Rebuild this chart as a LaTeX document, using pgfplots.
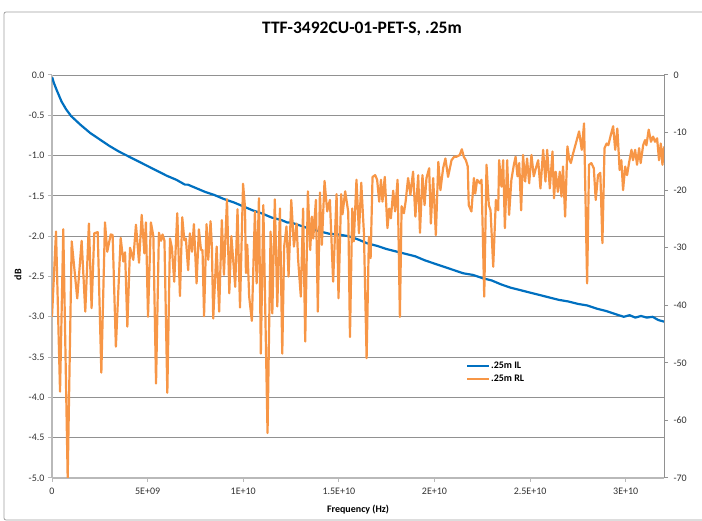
\documentclass[border=0pt]{standalone}
\usepackage{fontspec}
\setmainfont{Carlito}
\usepackage{pgfplots}
\pgfplotsset{compat=1.18}
\definecolor{ilblue}{RGB}{0,112,192}
\definecolor{rlorange}{RGB}{247,150,70}
\definecolor{gridgray}{RGB}{145,145,145}
\definecolor{axgray}{RGB}{185,185,185}
\definecolor{txt}{RGB}{50,50,50}

\pgfplotstableread{
f il
0.01 -0.03
0.10 -0.10
0.25 -0.19
0.50 -0.33
0.75 -0.43
1.00 -0.51
1.50 -0.62
2.00 -0.72
2.50 -0.80
3.00 -0.88
3.50 -0.95
4.00 -1.01
4.50 -1.07
5.00 -1.13
5.50 -1.19
6.00 -1.25
6.50 -1.30
6.80 -1.34
6.95 -1.36
7.10 -1.36
7.50 -1.40
8.00 -1.45
8.50 -1.49
9.00 -1.54
9.50 -1.58
10.00 -1.63
10.50 -1.68
11.00 -1.72
11.50 -1.77
12.00 -1.80
12.30 -1.83
12.50 -1.83
13.00 -1.87
13.50 -1.91
14.00 -1.94
14.50 -1.97
15.00 -1.98
15.50 -2.00
16.00 -2.04
16.50 -2.09
17.00 -2.12
17.50 -2.16
18.00 -2.19
18.50 -2.22
19.00 -2.25
19.50 -2.30
20.00 -2.34
20.50 -2.38
21.00 -2.42
21.50 -2.46
22.00 -2.48
22.50 -2.52
23.00 -2.55
23.50 -2.60
24.00 -2.64
24.50 -2.67
25.00 -2.70
25.50 -2.73
26.00 -2.76
26.50 -2.79
27.00 -2.81
27.50 -2.84
28.00 -2.86
28.50 -2.90
29.00 -2.93
29.50 -2.97
29.90 -3.00
30.20 -2.98
30.50 -3.01
30.80 -2.99
31.10 -3.01
31.40 -3.00
31.70 -3.04
32.00 -3.06
}\iltable

\pgfplotstableread{
f rl
0.00 -42.0
0.21 -27.2
0.42 -55.0
0.59 -26.8
0.82 -70.0
1.03 -28.9
1.32 -38.8
1.55 -28.8
1.74 -41.1
1.93 -25.8
2.07 -40.5
2.21 -27.5
2.39 -27.3
2.58 -51.7
2.77 -25.6
2.89 -30.7
3.07 -27.7
3.17 -27.8
3.34 -47.2
3.59 -28.3
3.73 -32.4
3.82 -30.8
3.94 -43.7
4.08 -30.0
4.25 -32.1
4.39 -26.0
4.55 -32.6
4.69 -24.3
4.83 -31.0
4.91 -25.6
5.02 -42.0
5.17 -25.6
5.30 -28.0
5.44 -53.6
5.59 -27.4
5.70 -28.8
5.78 -27.7
5.88 -28.8
6.03 -55.2
6.17 -28.4
6.27 -30.0
6.39 -35.9
6.55 -24.0
6.69 -38.4
6.81 -24.7
6.92 -28.7
7.00 -28.4
7.12 -33.9
7.21 -27.5
7.32 -30.7
7.42 -25.9
7.56 -36.2
7.68 -26.8
7.79 -30.4
7.87 -30.4
7.95 -41.9
8.08 -25.9
8.17 -32.1
8.29 -25.4
8.36 -29.8
8.43 -42.3
8.61 -29.8
8.74 -41.1
8.88 -25.2
8.99 -34.7
9.15 -21.6
9.27 -37.9
9.38 -28.0
9.58 -36.8
9.70 -23.3
9.83 -40.4
9.99 -18.9
10.09 -22.9
10.14 -34.4
10.21 -29.5
10.31 -38.5
10.45 -42.7
10.61 -23.7
10.70 -36.2
10.82 -21.4
10.92 -48.4
11.05 -22.6
11.27 -62.2
11.43 -27.2
11.52 -41.4
11.65 -21.6
11.78 -40.2
11.92 -23.2
12.04 -48.4
12.14 -29.8
12.26 -26.3
12.37 -35.0
12.51 -21.7
12.65 -29.8
12.79 -25.8
12.87 -32.1
13.01 -38.5
13.13 -23.2
13.24 -46.3
13.38 -20.2
13.50 -30.4
13.59 -24.6
13.66 -28.4
13.80 -21.7
13.90 -41.1
14.01 -20.4
14.11 -29.5
14.25 -18.4
14.39 -23.7
14.53 -21.7
14.70 -35.9
14.88 -20.7
14.98 -38.8
15.12 -20.7
15.19 -24.2
15.33 -20.2
15.49 -23.8
15.58 -45.5
15.70 -23.2
15.78 -28.9
15.92 -18.2
16.05 -27.5
16.17 -18.7
16.31 -27.5
16.45 -49.2
16.57 -28.1
16.66 -31.8
16.76 -17.7
16.90 -17.4
17.00 -18.2
17.11 -22.0
17.20 -18.2
17.28 -22.0
17.40 -17.7
17.54 -26.6
17.63 -23.2
17.72 -24.9
17.84 -20.1
17.94 -23.7
18.07 -18.2
18.19 -42.0
18.28 -22.8
18.40 -24.0
18.49 -22.0
18.62 -17.9
18.74 -20.8
18.88 -16.8
19.00 -24.6
19.15 -17.4
19.24 -27.4
19.37 -17.4
19.48 -22.6
19.58 -17.9
19.72 -16.2
19.81 -25.8
19.93 -17.9
20.07 -27.8
20.20 -15.1
20.31 -20.0
20.45 -16.2
20.57 -14.5
20.71 -17.7
20.89 -14.8
21.03 -14.2
21.15 -14.2
21.32 -13.9
21.43 -12.9
21.53 -14.2
21.64 -14.8
21.74 -15.9
21.79 -22.6
21.93 -23.7
22.06 -17.9
22.13 -20.6
22.23 -18.2
22.37 -18.8
22.46 -18.2
22.60 -38.5
22.72 -15.6
22.84 -22.6
22.93 -23.5
23.07 -33.3
23.21 -21.7
23.33 -23.5
23.38 -14.8
23.50 -19.4
23.59 -14.8
23.68 -26.6
23.80 -14.8
23.90 -24.3
24.02 -18.2
24.15 -15.6
24.24 -14.2
24.34 -17.6
24.43 -15.3
24.53 -23.5
24.63 -13.9
24.74 -18.5
24.84 -14.5
24.95 -18.8
25.07 -13.9
25.19 -17.6
25.30 -16.2
25.42 -14.8
25.54 -19.7
25.68 -13.0
25.80 -18.5
25.89 -13.0
26.03 -19.7
26.17 -13.3
26.25 -21.4
26.34 -16.8
26.45 -20.3
26.55 -16.8
26.64 -21.1
26.72 -15.9
26.83 -24.6
26.95 -12.4
27.04 -14.5
27.13 -15.3
27.25 -13.6
27.39 -11.9
27.56 -9.8
27.70 -13.0
27.82 -8.4
27.98 -36.2
28.08 -15.6
28.20 -15.3
28.33 -16.2
28.43 -21.7
28.55 -17.4
28.67 -17.0
28.78 -29.2
28.89 -12.7
29.00 -11.9
29.09 -12.2
29.22 -10.4
29.34 -8.9
29.45 -13.0
29.56 -9.3
29.68 -16.5
29.77 -14.8
29.86 -20.0
29.97 -15.9
30.07 -17.4
30.17 -15.3
30.30 -13.0
30.38 -14.8
30.49 -13.0
30.59 -15.6
30.70 -12.7
30.78 -15.3
30.91 -12.2
31.01 -11.3
31.08 -12.2
31.20 -9.5
31.32 -11.6
31.43 -10.7
31.53 -11.6
31.64 -11.0
31.74 -14.8
31.83 -11.9
31.92 -15.6
32.00 -12.4
}\rltable

\begin{document}
\begin{tikzpicture}
\useasboundingbox (-52pt,-43pt) rectangle (650pt,478pt);
\draw[gray!75, line width=0.8pt, rounded corners=2pt] (-48pt,-42pt) rectangle (660pt,466pt);
\begin{axis}[
  scale only axis, width=612pt, height=403pt,
  at={(0pt,0pt)}, anchor=south west,
  xmin=0, xmax=32, ymin=-5, ymax=0,
  axis x line*=bottom, axis y line*=left,
  axis line style={axgray, line width=1.4pt, -},
  xtick={0,5,10,15,20,25,30},
  xticklabels={0,5E+09,1E+10,1.5E+10,2E+10,2.5E+10,3E+10},
  ytick={-5,-4.5,-4,-3.5,-3,-2.5,-2,-1.5,-1,-0.5,0},
  yticklabel style={/pgf/number format/.cd,fixed,fixed zerofill,precision=1},
  /pgf/number format/assume math mode=true,
  ymajorgrids, grid style={gridgray, line width=0.9pt},
  tick align=outside, major tick length=4pt,
  tick style={axgray, line width=1pt},
  tick label style={font=\fontsize{10}{12}\selectfont, text=txt},
  xticklabel style={yshift=-2pt},
  ylabel={dB},
  ylabel style={font=\bfseries\fontsize{10}{12}\selectfont, at={(axis description cs:-0.0556,0.504)}, anchor=center, rotate=0},
  xlabel={Frequency (Hz)},
  xlabel style={font=\bfseries\fontsize{10}{12}\selectfont, at={(axis description cs:0.5,-0.079)}, anchor=center},
  title={TTF-3492CU-01-PET-S, .25m},
  title style={font=\bfseries\fontsize{17.5}{20}\selectfont, at={(axis description cs:0.5065,1.099)}, anchor=center},
]
\addplot[ilblue, line width=2.2pt, line join=round] table[x=f, y=il] {\iltable};
\end{axis}
\begin{axis}[
  scale only axis, width=612pt, height=403pt,
  at={(0pt,0pt)}, anchor=south west,
  xmin=0, xmax=32, ymin=-70, ymax=0,
  axis x line=none, axis y line*=right,
  axis line style={gridgray, line width=1pt, -},
  ytick={-70,-60,-50,-40,-30,-20,-10,0},
  /pgf/number format/assume math mode=true,
  tick align=outside, major tick length=4pt,
  tick style={gridgray, line width=1pt},
  tick label style={font=\fontsize{10}{12}\selectfont, text=txt},
  yticklabel style={xshift=2pt},
  legend style={at={(0.676,0.292)}, anchor=north west, draw=none, fill=none,
    font=\bfseries\fontsize{10}{12}\selectfont, inner sep=0pt, row sep=3pt,
    nodes={inner sep=1pt}},
  legend cell align=left,
  legend image code/.code={\draw[#1] (0pt,0pt) -- (22pt,0pt);},
]
\addlegendimage{ilblue, line width=2pt}
\addlegendentry{.25m IL}
\addplot[rlorange, line width=2.2pt, line join=round] table[x=f, y=rl] {\rltable};
\addlegendentry{.25m RL}
\end{axis}
\end{tikzpicture}
\end{document}
